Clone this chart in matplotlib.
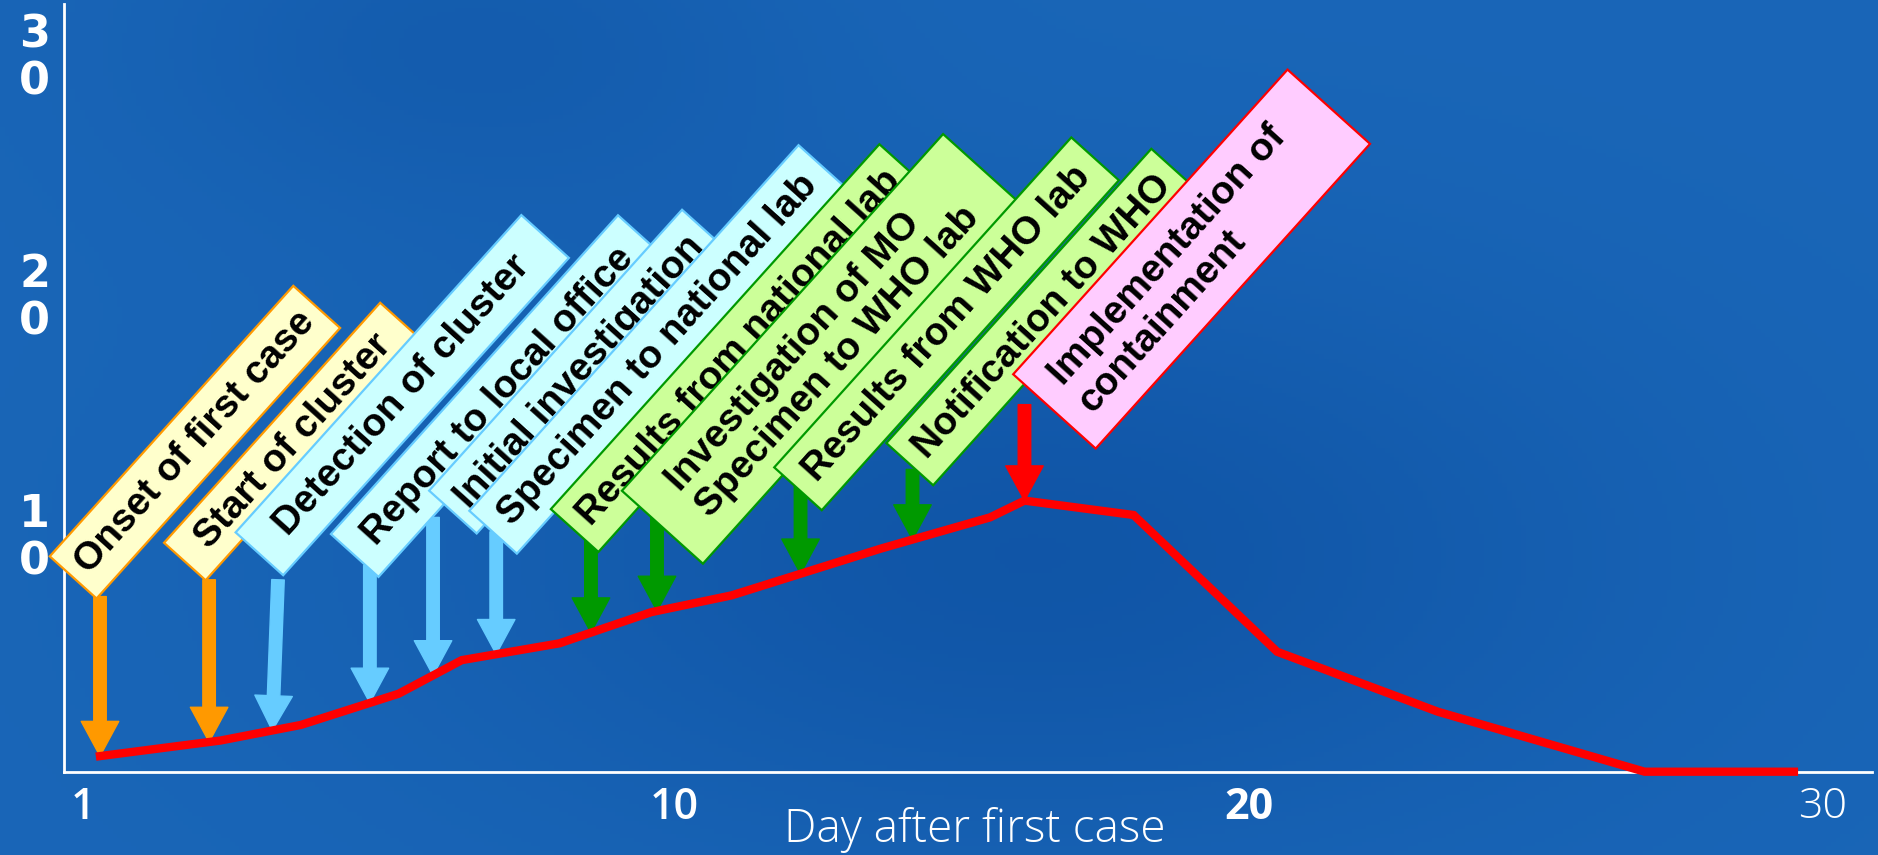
import numpy as np
import matplotlib
matplotlib.use('Agg')
import matplotlib.pyplot as plt
import matplotlib.patches as mpatches
import matplotlib.transforms as mtransforms

# epidemic curve (x = day index, y = cases)
days = [0.0, 2.1, 3.5, 5.2, 6.3, 8.0, 9.6, 11.0, 13.6, 15.5, 16.1, 18.0, 20.5, 23.3, 26.9, 29.5]
cases = [0.65, 1.3, 1.95, 3.25, 4.65, 5.35, 6.65, 7.35, 9.3, 10.6, 11.3, 10.7, 5.0, 2.5, 0.0, 0.0]

# events along the curve
event_labels = [
    'Onset of first case',
    'Start of cluster',
    'Detection of cluster',
    'Report to local office',
    'Initial investigation',
    'Specimen to national lab',
    'Results from national lab',
    'Investigation of MO\nSpecimen to WHO lab',
    'Results from WHO lab',
    'Notification to WHO',
    'Implementation of\ncontainment',
]
event_days = [0.0, 1.9, 3.0, 4.7, 5.8, 6.9, 8.55, 9.7, 12.2, 14.15, 16.1]
event_kind = ['case', 'case', 'local', 'local', 'local', 'local',
              'lab', 'lab', 'lab', 'lab', 'response']
arrow_top = [7.3, 8.0, 8.0, 8.6, 10.6, 10.0, 10.0, 10.6, 11.9, 12.6, 15.3]

x_tick_pos = [-0.3, 10, 20, 30]
x_tick_labels = ['1', '10', '20', '30']
y_tick_pos = [10, 20, 30]
y_tick_labels = ['1\n0', '2\n0', '3\n0']

# layout of the tilted label boxes (bottom corner in data units, sizes in px)
box_anchor = [(-0.06, 7.22), (1.84, 7.98), (3.19, 8.19), (4.85, 8.12), (6.56, 9.93),
              (7.26, 9.09), (8.68, 9.16), (10.50, 8.67), (12.57, 10.90), (14.51, 11.94),
              (17.34, 13.47)]
box_len = [364, 323, 427, 429, 378, 492, 491, 480, 444, 396, 410]
box_wid = [63, 56, 64, 64, 64, 64, 64, 109, 64, 63, 111]
text_shift = [0, 0, 0, 0, 0, 0, 0, 0, 0, 0, -14]
tail_dx = [0, 0, 0.1, 0, 0, 0, 0, 0, 0, 0, 0]
ANGLE = 48
x_weights = ['semibold', 'semibold', 'bold', 'light']

STYLE = {
    'case': dict(fc='#FFFFCC', ec='#FF9900', arrow='#FF9900'),
    'local': dict(fc='#CCFFFF', ec='#66CCFF', arrow='#66CCFF'),
    'lab': dict(fc='#CCFF99', ec='#009900', arrow='#009900'),
    'response': dict(fc='#FFCCFF', ec='#FF0000', arrow='#FF0000'),
}

W, H = 1878, 855
fig = plt.figure(figsize=(W / 100, H / 100), dpi=100)

# blue slide background
bg = fig.add_axes([0, 0, 1, 1], zorder=-10)
bg.axis('off')
yy, xx = np.mgrid[0:1:200j, 0:1:400j]
shade = 0.7 * np.exp(-((xx - 0.55) ** 2 / 0.10 + (yy - 0.65) ** 2 / 0.12))
shade += 0.4 * np.exp(-((xx - 0.25) ** 2 / 0.03 + (yy - 0.05) ** 2 / 0.04))
shade = np.clip(shade, 0, 1)
light = np.array([0.10, 0.40, 0.72])
dark = np.array([0.05, 0.31, 0.63])
img = light * (1 - shade[..., None]) + dark * shade[..., None]
bg.imshow(img, extent=[0, 1, 0, 1], aspect='auto', origin='upper')
bg.set_xlim(0, 1)
bg.set_ylim(0, 1)

ax = fig.add_axes([64 / W, (H - 771.7) / H, (1872 - 64) / W, (771.7 - 4) / H])
ax.set_facecolor('none')
ax.set_xlim(-0.627, 30.86)
ax.set_ylim(0, 32)
for s in ['top', 'right']:
    ax.spines[s].set_visible(False)
for s in ['left', 'bottom']:
    ax.spines[s].set_color('white')
    ax.spines[s].set_linewidth(2)

ax.plot(days, cases, color='#FF0000', lw=6, solid_joinstyle='miter', zorder=30, clip_on=False)

tips = np.interp(event_days, days, cases)
for i, kind in enumerate(event_kind):
    st = STYLE[kind]
    arr = mpatches.FancyArrowPatch(
        (event_days[i] + tail_dx[i], arrow_top[i]), (event_days[i], tips[i]),
        arrowstyle=mpatches.ArrowStyle.Simple(head_length=25, head_width=27, tail_width=9),
        mutation_scale=1, color=st['arrow'], shrinkA=0, shrinkB=0, zorder=5)
    ax.add_patch(arr)

th = np.deg2rad(ANGLE)
u = np.array([np.cos(th), np.sin(th)])
v = np.array([-np.sin(th), np.cos(th)])
ident = mtransforms.IdentityTransform()
for i, label in enumerate(event_labels):
    st = STYLE[event_kind[i]]
    B = ax.transData.transform(box_anchor[i])
    L, Wd = box_len[i], box_wid[i]
    corners = [B, B + L * u, B + L * u + Wd * v, B + Wd * v]
    ax.add_patch(mpatches.Polygon(corners, closed=True, fc=st['fc'], ec=st['ec'], lw=1.6,
                                  joinstyle='miter', transform=ident, zorder=10 + 2 * i,
                                  clip_on=False))
    c = B + (L / 2 + text_shift[i]) * u + Wd / 2 * v
    ax.text(c[0], c[1], label, transform=ident, rotation=ANGLE, rotation_mode='anchor',
            ha='center', va='center', multialignment='left', fontsize=28,
            fontweight='bold', family=['Liberation Sans', 'DejaVu Sans'], color='black',
            zorder=11 + 2 * i, clip_on=False, linespacing=1.15)

ax.set_yticks(y_tick_pos, y_tick_labels)
ax.tick_params(axis='y', length=0, pad=21, colors='white')
for t in ax.get_yticklabels():
    t.set_fontsize(32)
    t.set_fontweight('bold')
    t.set_family('DejaVu Sans')
    t.set_ha('center')
    t.set_linespacing(1.12)

ax.set_xticks(x_tick_pos, x_tick_labels)
ax.tick_params(axis='x', length=0, pad=10, colors='white')
for t, w in zip(ax.get_xticklabels(), x_weights):
    t.set_fontsize(31)
    t.set_fontweight(w)
    t.set_family(['Open Sans', 'DejaVu Sans'])

ax.set_xlabel('Day after first case', color='white', fontsize=33, fontweight='light',
              family=['Open Sans', 'DejaVu Sans'])
ax.xaxis.label.set_va('center')
ax.xaxis.set_label_coords(0.504, -0.076)

fig.savefig('out.png', dpi=100)
